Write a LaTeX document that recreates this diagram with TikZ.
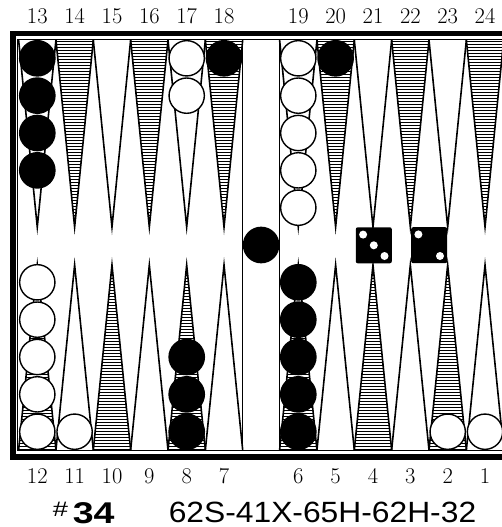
\documentclass[tikz,border=0pt]{standalone}
\usepackage{fontspec}
\newfontfamily\labelsans{Liberation Sans}
\begin{document}
\begin{tikzpicture}[x=1pt,y=-1pt,
  ptline/.style={draw=black, line width=1.6pt, line join=miter, miter limit=20},
  hatch/.style={draw=black, line width=0.9pt},
  wchk/.style={circle, draw=black, line width=1.4pt, fill=white, minimum size=35.3pt, inner sep=0pt},
  bchk/.style={circle, fill=black, minimum size=36.7pt, inner sep=0pt},
  die/.style={rectangle, fill=black, rounded corners=2pt, minimum size=36pt, inner sep=0pt},
  pip/.style={fill=white},
  numlabel/.style={font=\fontsize{22.5}{24}\selectfont, anchor=base, inner sep=0pt},
  frame/.style={draw=black, line width=5.5pt, line join=miter},
  thinline/.style={draw=black, line width=1pt}]
\useasboundingbox (0,0) rectangle (502,527);
\clip (0,0) rectangle (502,527);
\fill[white] (0,0) rectangle (502,527);

% top points
\foreach \xo in {18.6,279.6} {
  \foreach \k/\h in {0/0,1/1,2/0,3/1,4/0,5/1} {
    \pgfmathsetmacro\xa{\xo+37.35*\k}
    \pgfmathsetmacro\xm{\xa+18.675}
    \pgfmathsetmacro\xb{\xa+37.35}
    \ifnum\h=1
      \begin{scope}
        \clip (\xa,40) -- (\xm,227) -- (\xb,40) -- cycle;
        \foreach \yy in {41,44,...,228} \draw[hatch] (\xa,\yy) -- (\xb,\yy);
      \end{scope}
    \fi
    \draw[ptline] (\xa,40) -- (\xm,227) -- (\xb,40);
  }
}
% bottom points
\foreach \xo in {18.6,279.6} {
  \foreach \k/\h in {0/1,1/0,2/1,3/0,4/1,5/0} {
    \pgfmathsetmacro\xa{\xo+37.35*\k}
    \pgfmathsetmacro\xm{\xa+18.675}
    \pgfmathsetmacro\xb{\xa+37.35}
    \ifnum\h=1
      \begin{scope}
        \clip (\xa,450) -- (\xm,265) -- (\xb,450) -- cycle;
        \foreach \yy in {449,446,...,263} \draw[hatch] (\xa,\yy) -- (\xb,\yy);
      \end{scope}
    \fi
    \draw[ptline] (\xa,450) -- (\xm,265) -- (\xb,450);
  }
}

% frame and bar
\draw[thinline] (530,39.8) -- (17.8,39.8) -- (17.8,450.7) -- (530,450.7);
\draw[frame] (530,33.75) -- (12.75,33.75) -- (12.75,457) -- (530,457);
\draw[thinline] (242.7,39.8) -- (242.7,450.7);
\draw[thinline] (279.6,39.8) -- (279.6,450.7);

% checkers top
\foreach \i in {0,...,3} \node[bchk] (p13-\i) at ({37.3},{58.3+37.35*\i}) {};
\foreach \i in {0,1} \node[wchk] (p17-\i) at ({186.7},{58.3+37.35*\i}) {};
\node[bchk] (p18-0) at (224.0,58.3) {};
\foreach \i in {0,...,4} \node[wchk] (p19-\i) at ({298.3},{58.3+37.35*\i}) {};
\node[bchk] (p20-0) at (335.6,58.3) {};
% checkers bottom
\foreach \i in {0,...,4} \node[wchk] (p12-\i) at ({37.3},{431.7-37.35*\i}) {};
\node[wchk] (p11-0) at (74.6,431.7) {};
\foreach \i in {0,...,2} \node[bchk] (p8-\i) at ({186.7},{431.7-37.35*\i}) {};
\foreach \i in {0,...,4} \node[bchk] (p6-\i) at ({298.3},{431.7-37.35*\i}) {};
\node[wchk] (p2-0) at (447.7,431.7) {};
\node[wchk] (p1-0) at (485.0,431.7) {};
% bar
\node[bchk] (bar-0) at (261.15,245) {};

% dice
\node[die] (d1) at (373.8,245.3) {};
\fill[pip] (d1) ++(-10.7,-10.7) circle (4);
\fill[pip] (d1) circle (4);
\fill[pip] (d1) ++(10.7,10.7) circle (4);
\node[die] (d2) at (429.2,245.2) {};
\fill[pip] (d2) ++(-10.8,-10.8) circle (4);
\fill[pip] (d2) ++(10.8,10.8) circle (4);

% point numbers
\foreach \n [count=\k from 0] in {13,14,15,16,17,18}
  \node[numlabel] (t\n) at ({37.3+37.35*\k},24) {\n};
\foreach \n [count=\k from 0] in {19,20,21,22,23,24}
  \node[numlabel] (t\n) at ({298.3+37.35*\k},24) {\n};
\foreach \n [count=\k from 0] in {12,11,10,9,8,7}
  \node[numlabel] (b\n) at ({37.3+37.35*\k},483.3) {\n};
\foreach \n [count=\k from 0] in {6,5,4,3,2,1}
  \node[numlabel] (b\n) at ({298.3+37.35*\k},483.3) {\n};

% caption
\node[anchor=base, inner sep=0pt, font=\labelsans\fontsize{21}{21}\selectfont] (hash) at (60.5,516.7) {\scalebox{1.3}[1]{\#}};
\node[anchor=base, inner sep=0pt, font=\labelsans\bfseries\fontsize{30}{30}\selectfont] (num) at (93.7,523) {\scalebox{1.25}[1]{34}};
\node[anchor=base, inner sep=0pt, font=\labelsans\fontsize{29.3}{30}\selectfont] (moves) at (322.5,522.7) {\scalebox{1.085}[1]{62S-41X-65H-62H-32}};
\end{tikzpicture}
\end{document}
